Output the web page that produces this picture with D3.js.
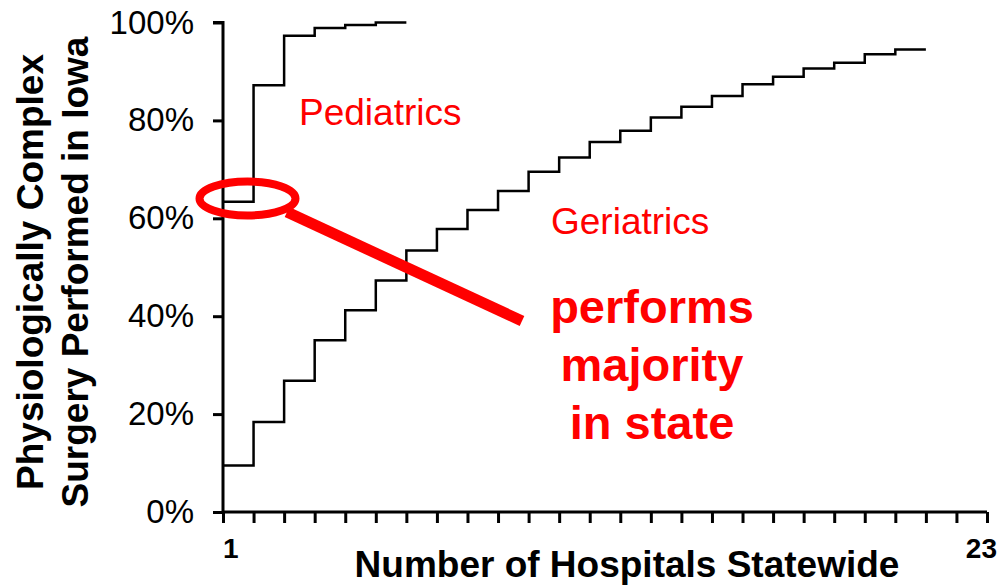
<!DOCTYPE html>
<html>
<head>
<meta charset="utf-8">
<script src="https://cdn.jsdelivr.net/npm/d3@7"></script>
<style>
  body { margin: 0; background: #fff; }
  text { font-family: "Liberation Sans", Arial, sans-serif; }
</style>
</head>
<body>
<div class="chart"></div>
<script>
const width = 1002
const height = 586

// cumulative share of surgery, one step per hospital
const pediatrics = [63.4, 87.2, 97.3, 98.9, 99.5, 100]
const geriatrics = [9.5, 18.4, 26.8, 35.1, 41.2, 47.3, 53.4, 57.8, 61.7, 65.6, 69.5, 72.4,
                    75.6, 77.9, 80.6, 82.8, 85.0, 87.4, 88.9, 90.6, 91.8, 93.5, 94.5]
const yTicks = [0, 20, 40, 60, 80, 100]
const xTickCount = 25
const xLabels = ["1", "23"]
const calloutLines = ["performs", "majority", "in state"]

const svg = d3.select('.chart').append("svg")
    .attr("width", width)
    .attr("height", height)

const x = d3.scaleLinear().domain([0, xTickCount]).range([223, 987])
const y = d3.scaleLinear().domain([0, 100]).range([512, 22.5])

// y axis
const yAxis = svg.append("g")
    .attr("transform", `translate(${x(0)},0)`)
    .call(d3.axisLeft(y).tickValues(yTicks).tickSize(10).tickPadding(19).tickFormat(d => d + "%"))
yAxis.select(".domain").attr("stroke", "#000").attr("stroke-width", 3)
    .attr("d", `M-10,${y(100)}H0V${y(0)}`)
yAxis.selectAll(".tick line").attr("stroke", "#000").attr("stroke-width", 3)
yAxis.selectAll(".tick text")
    .attr("font-size", 33)
    .attr("fill", "#000")
    .style("font-family", '"Liberation Sans", Arial, sans-serif')

// x axis
const xAxis = svg.append("g")
    .attr("transform", `translate(0,${y(0)})`)
    .call(d3.axisBottom(x).ticks(xTickCount).tickSize(11).tickFormat(""))
xAxis.select(".domain").attr("stroke", "#000").attr("stroke-width", 3)
    .attr("d", `M${x(0)},0H${x(xTickCount)}`)
xAxis.selectAll(".tick line").attr("stroke", "#000").attr("stroke-width", 3)

svg.append("text")
    .attr("x", x(0))
    .attr("y", 558)
    .attr("font-size", 28)
    .attr("font-weight", "bold")
    .text(xLabels[0])
svg.append("text")
    .attr("x", x(xTickCount) + 10)
    .attr("y", 558)
    .attr("text-anchor", "end")
    .attr("font-size", 28)
    .attr("font-weight", "bold")
    .text(xLabels[1])

// axis titles
svg.append("text")
    .attr("x", 627)
    .attr("y", 577)
    .attr("text-anchor", "middle")
    .attr("font-size", 37)
    .attr("font-weight", "bold")
    .text("Number of Hospitals Statewide")

const yTitle = svg.append("text")
    .attr("transform", "translate(43,272) rotate(-90)")
    .attr("text-anchor", "middle")
    .attr("font-size", 37)
    .attr("font-weight", "bold")
yTitle.append("tspan").attr("x", 0).attr("y", 0).text("Physiologically Complex")
yTitle.append("tspan").attr("x", 0).attr("y", 45).text("Surgery Performed in Iowa")

// step lines
const stepLine = d3.line()
    .x(d => x(d[0]))
    .y(d => y(d[1]))
    .curve(d3.curveStepAfter)

function stepPoints(vals) {
  const pts = vals.map((v, i) => [i, v])
  pts.push([vals.length, vals[vals.length - 1]])
  return pts
}

svg.append("path")
    .attr("d", stepLine(stepPoints(geriatrics)))
    .attr("fill", "none")
    .attr("stroke", "#000")
    .attr("stroke-width", 2.5)

svg.append("path")
    .attr("d", stepLine(stepPoints(pediatrics)))
    .attr("fill", "none")
    .attr("stroke", "#000")
    .attr("stroke-width", 2.5)

// labels
svg.append("text")
    .attr("x", 299)
    .attr("y", 125)
    .attr("font-size", 37)
    .attr("fill", "#ff0000")
    .text("Pediatrics")

svg.append("text")
    .attr("x", 551)
    .attr("y", 234)
    .attr("font-size", 37)
    .attr("fill", "#ff0000")
    .text("Geriatrics")

// callout
svg.append("ellipse")
    .attr("cx", 247.5)
    .attr("cy", 198.5)
    .attr("rx", 48)
    .attr("ry", 17)
    .attr("fill", "none")
    .attr("stroke", "#ff0000")
    .attr("stroke-width", 8)

svg.append("line")
    .attr("x1", 287).attr("y1", 212)
    .attr("x2", 522).attr("y2", 321)
    .attr("stroke", "#ff0000")
    .attr("stroke-width", 11)

svg.append("text")
    .attr("text-anchor", "middle")
    .attr("font-size", 47)
    .attr("font-weight", "bold")
    .attr("fill", "#ff0000")
  .selectAll("tspan")
  .data(calloutLines)
  .join("tspan")
    .attr("x", 652)
    .attr("y", (d, i) => 323 + i * 58)
    .text(d => d)
</script>
</body>
</html>
